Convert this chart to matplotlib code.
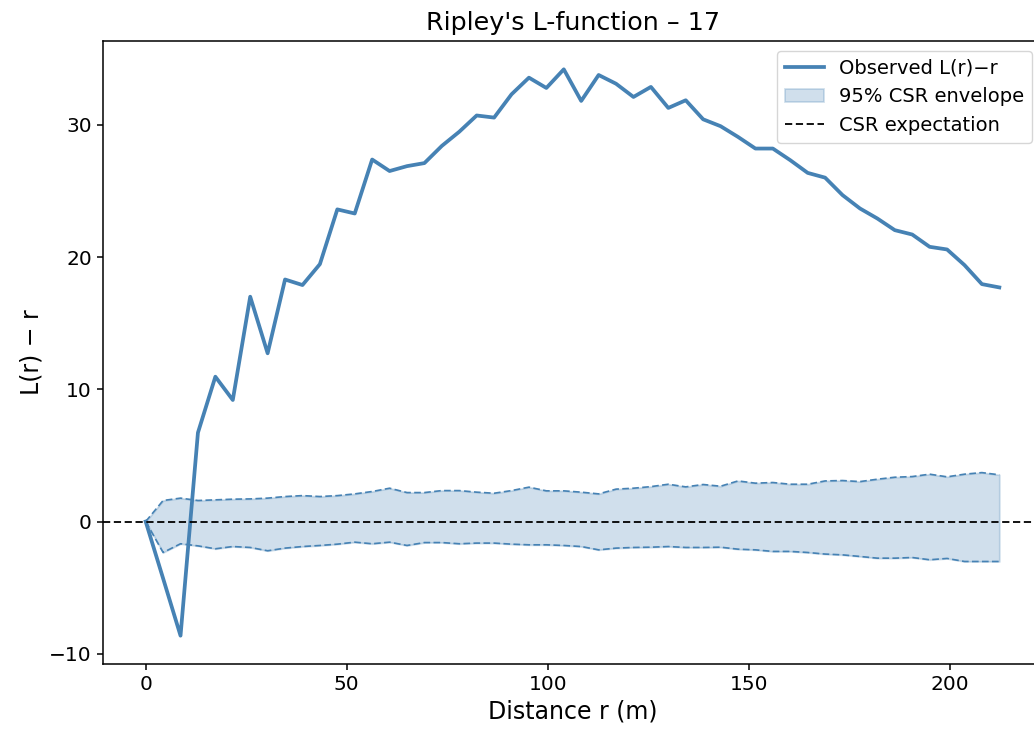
import numpy as np
import matplotlib
matplotlib.use("Agg")
import matplotlib.pyplot as plt

r_max = 212.3
n_pts = 50
r = np.linspace(0, r_max, n_pts)

observed = [0.0, -4.3, -8.63, 6.72, 10.95, 9.19, 17.0, 12.72, 18.3, 17.88,
            19.46, 23.6, 23.29, 27.37, 26.5, 26.87, 27.1, 28.4, 29.47, 30.7,
            30.54, 32.3, 33.56, 32.78, 34.19, 31.8, 33.76, 33.1, 32.1, 32.86,
            31.27, 31.85, 30.41, 29.89, 29.08, 28.2, 28.2, 27.32, 26.36, 26.0,
            24.68, 23.67, 22.91, 22.03, 21.7, 20.77, 20.57, 19.39, 17.95, 17.7]

env_upper = [0.0, 1.59, 1.77, 1.59, 1.64, 1.69, 1.71, 1.77, 1.89, 1.96,
             1.89, 1.96, 2.09, 2.27, 2.52, 2.19, 2.19, 2.34, 2.34, 2.22,
             2.14, 2.34, 2.6, 2.32, 2.32, 2.22, 2.09, 2.45, 2.52, 2.64,
             2.82, 2.62, 2.8, 2.67, 3.07, 2.9, 2.95, 2.82, 2.82, 3.07,
             3.1, 3.02, 3.2, 3.35, 3.4, 3.58, 3.38, 3.58, 3.7, 3.53]

env_lower = [0.0, -2.34, -1.68, -1.84, -2.06, -1.89, -1.96, -2.21, -2.01, -1.89,
             -1.81, -1.71, -1.56, -1.68, -1.56, -1.81, -1.59, -1.59, -1.68, -1.63,
             -1.63, -1.71, -1.76, -1.76, -1.81, -1.89, -2.14, -2.01, -1.96, -1.94,
             -1.89, -1.96, -1.96, -1.94, -2.09, -2.14, -2.26, -2.26, -2.34, -2.46,
             -2.52, -2.64, -2.77, -2.77, -2.72, -2.89, -2.79, -3.02, -3.02, -3.02]

W, H = 1034, 736
fig = plt.figure(figsize=(W / 100, H / 100), dpi=100)
ax_l, ax_r, ax_t, ax_b = 103, 1042, 41, 664
ax = fig.add_axes([ax_l / W, (H - ax_b) / H, (ax_r - ax_l) / W, (ax_b - ax_t) / H])

ax.fill_between(r, env_lower, env_upper, color="steelblue", alpha=0.25,
                lw=1.3, label="95% CSR envelope")
ax.plot(r, env_upper, color="steelblue", lw=1.2, ls=(0, (4, 2)))
ax.plot(r, env_lower, color="steelblue", lw=1.2, ls=(0, (4, 2)))
ax.plot(r, observed, color="steelblue", lw=2.7, label="Observed L(r)\u2212r")
ax.axhline(0, color="black", lw=1.3, ls=(0, (4, 2)), label="CSR expectation")

ax.set_title("Ripley's L-function \u2013 17", fontsize=18.3, pad=8)
ax.set_xlabel("Distance r (m)", fontsize=17)
ax.set_ylabel("L(r) \u2212 r", fontsize=17)
ax.tick_params(labelsize=14.5, length=4.5, width=1.1)
for s in ax.spines.values():
    s.set_linewidth(1.1)

handles, labels = ax.get_legend_handles_labels()
order = [labels.index("Observed L(r)\u2212r"), labels.index("95% CSR envelope"),
         labels.index("CSR expectation")]
ax.legend([handles[i] for i in order], [labels[i] for i in order],
          loc="upper right", fontsize=14)

fig.savefig("out.png", dpi=100)
